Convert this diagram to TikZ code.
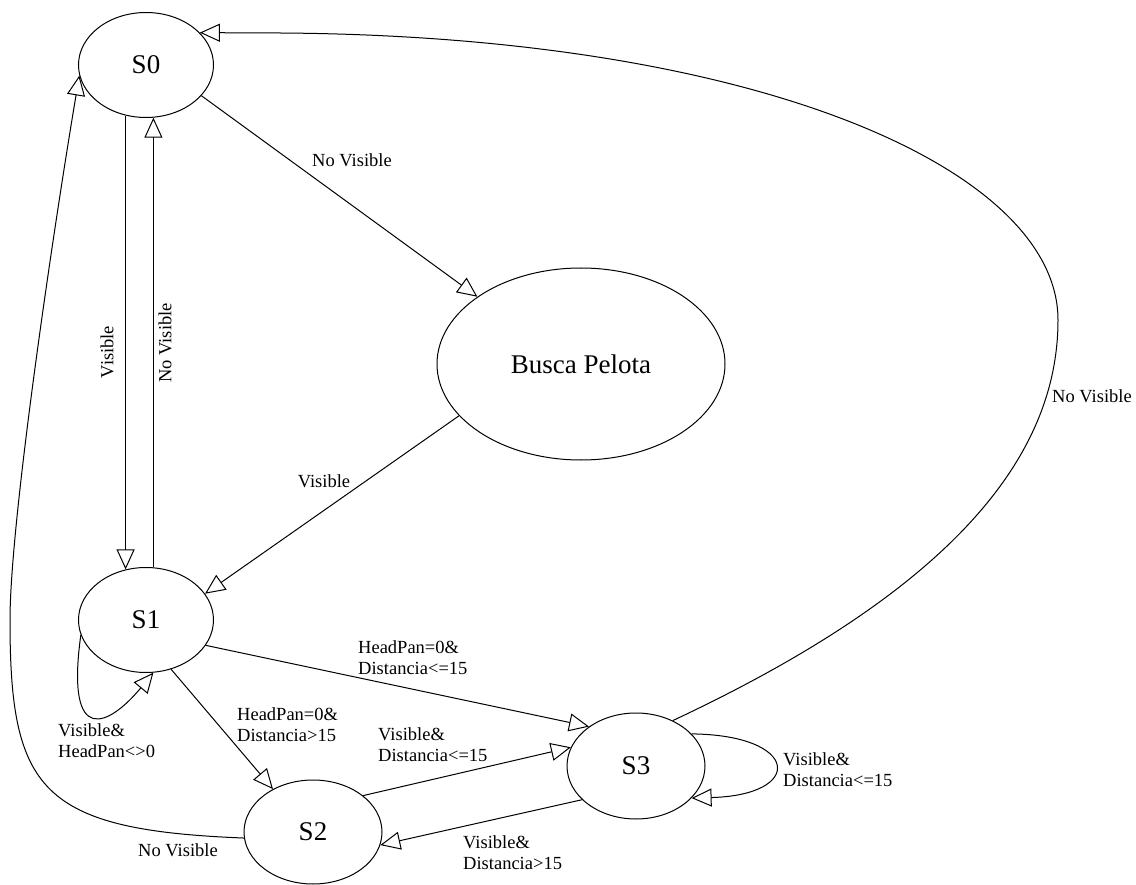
\documentclass[tikz,border=0pt]{standalone}
\usepackage{fontspec}
\setmainfont{Liberation Serif}
\usetikzlibrary{shapes.geometric,arrows.meta}
\begin{document}
\begin{tikzpicture}[x=1pt,y=-1pt,
  state/.style={draw, ellipse, line width=1pt, inner sep=0pt,
    font=\fontsize{27}{30}\selectfont},
  trans/.style={line width=1pt,
    -{Triangle[open, length=20pt, width=18pt, line width=1pt]}},
  lbl/.style={font=\fontsize{18.5}{21}\selectfont, inner sep=0pt, align=left},
  lblnw/.style={lbl, anchor=north west}]
\useasboundingbox (0,0) rectangle (1136,885);

% states
\node[state, minimum width=135pt, minimum height=105pt] (s0) at (146,65) {S0};
\node[state, minimum width=288pt, minimum height=192pt] (busca) at (581,364) {Busca Pelota};
\node[state, minimum width=135pt, minimum height=105pt] (s1) at (146,620) {S1};
\node[state, minimum width=138pt, minimum height=104pt] (s2) at (313,832) {S2};
\node[state, minimum width=138pt, minimum height=106pt] (s3) at (636,766) {S3};

% transitions
\draw[trans] (s0.-29.3) -- (busca.147.8);
\draw[trans] (s0.-112.8) -- (s1.112.8);
\draw[trans] (s1.82.4) -- (s0.-82.4);
\draw[trans] (busca.-157.5) -- (s1.24.6);
\draw[trans] (s1.-167) .. controls (65,750) and (110,725) .. (s1.-82);
\draw[trans] (s1.-23.9) -- (s3.140.2);
\draw[trans] (s1.-63.4) -- (s2.133.6);
\draw[trans] (s2.36.5) -- (s3.164.3);
\draw[trans] (s3.-148.1) -- (s2.-11.5);
\draw[trans] (s3.30) .. controls (800,735) and (805,795) .. (s3.-30.6);
\draw[trans] (s3.51.8) .. controls (930,600) and (1058,470) .. (1058,320)
  .. controls (1058,170) and (760,36) .. (280,33) -- (s0.31);
\draw[trans] (s2.-175) .. controls (40,830) and (10,790) .. (10,620)
  .. controls (10,520) and (55,220) .. (s0.-171.6);

% transition labels
\node[lbl] (l1) at (352,160) {No Visible};
\node[lbl, rotate=90] (l2) at (107,352) {Visible};
\node[lbl, rotate=90] (l3) at (165,343) {No Visible};
\node[lbl] (l4) at (324,481) {Visible};
\node[lblnw] (l5) at (58,723) {Visible\&\\HeadPan<>0};
\node[lblnw] (l6) at (237,707) {HeadPan=0\&\\Distancia>15};
\node[lblnw] (l7) at (358,640) {HeadPan=0\&\\Distancia<=15};
\node[lblnw] (l8) at (378,727) {Visible\&\\Distancia<=15};
\node[lblnw] (l9) at (463,835) {Visible\&\\Distancia>15};
\node[lblnw] (l10) at (783,752) {Visible\&\\Distancia<=15};
\node[lbl] (l11) at (178,850) {No Visible};
\node[lbl] (l12) at (1092,396) {No Visible};
\end{tikzpicture}
\end{document}
